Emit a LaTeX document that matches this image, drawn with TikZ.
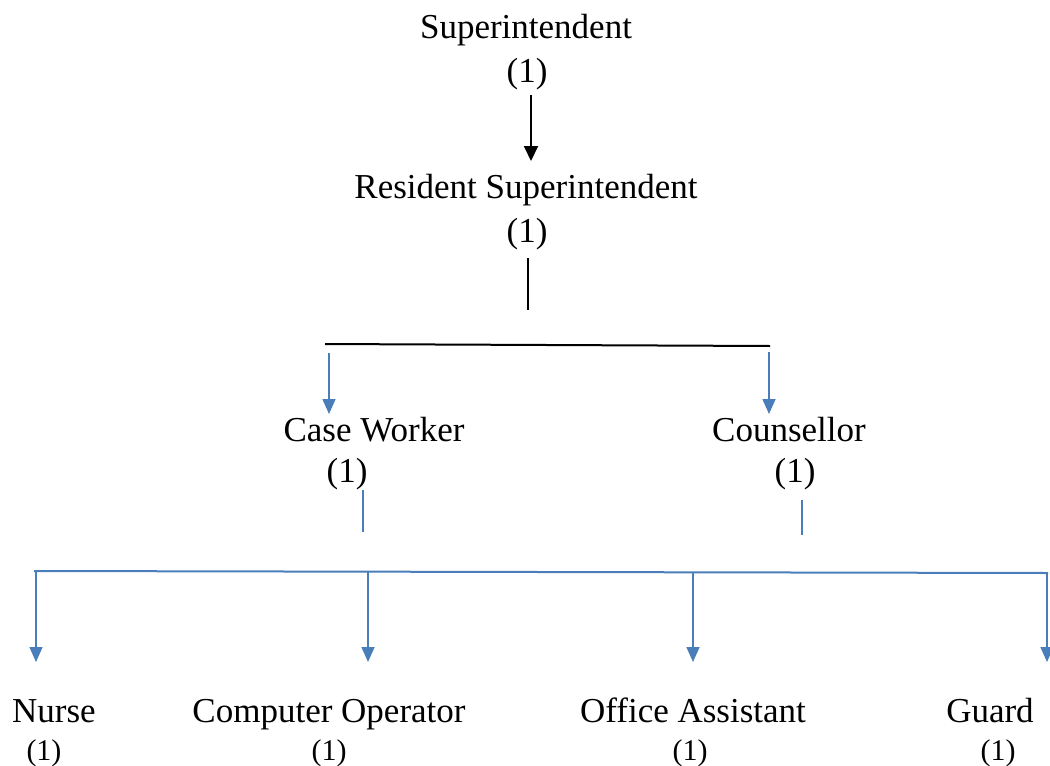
\documentclass[tikz,border=0pt]{standalone}
\usepackage{fontspec}
\setmainfont{Liberation Serif}
\usetikzlibrary{arrows.meta}
\definecolor{orgblue}{HTML}{4A7EBB}
\begin{document}
\begin{tikzpicture}[x=1pt,y=-1pt,
  lbl/.style={anchor=base,inner sep=0pt,font=\fontsize{35}{40}\selectfont},
  cnt/.style={anchor=base,inner sep=0pt,font=\fontsize{35}{40}\selectfont},
  cnts/.style={anchor=base,inner sep=0pt,font=\fontsize{30}{34}\selectfont},
  blk/.style={line width=2pt,black},
  blkarrow/.style={line width=2pt,black,-{Triangle[width=14pt,length=15pt]}},
  bl/.style={line width=1.6pt,orgblue},
  blarrow/.style={line width=1.6pt,orgblue,-{Triangle[width=13pt,length=15pt]}}]
\useasboundingbox (0,0) rectangle (1050,766);
% texts
\node[lbl] (sup) at (526,38) {Superintendent};
\node[cnt] (sup1) at (527,82) {(1)};
\node[lbl] (res) at (526,198) {Resident Superintendent};
\node[cnt] (res1) at (527,242) {(1)};
\node[lbl] (cw) at (374,441) {Case Worker};
\node[cnt] (cw1) at (347,482) {(1)};
\node[lbl] (co) at (789,441) {Counsellor};
\node[cnt] (co1) at (795,482) {(1)};
\node[lbl] (nu) at (54,722) {Nurse};
\node[cnts] (nu1) at (44,760) {(1)};
\node[lbl] (cop) at (329,722) {Computer Operator};
\node[cnts] (cop1) at (329,760) {(1)};
\node[lbl] (oa) at (693,722) {Office Assistant};
\node[cnts] (oa1) at (690,760) {(1)};
\node[lbl] (gu) at (990,722) {Guard};
\node[cnts] (gu1) at (998,760) {(1)};
% coordinates
\coordinate (a1) at (531,95);
\coordinate (a2) at (531,161);
\coordinate (r1) at (528,258);
\coordinate (r2) at (528,310);
\coordinate (hL) at (325,344);
\coordinate (hR) at (770,346);
\coordinate (cwT) at (329,353);
\coordinate (cwB) at (329,414);
\coordinate (coT) at (769,352);
\coordinate (coB) at (769,414);
\coordinate (c1) at (363,490);
\coordinate (c2) at (363,532);
\coordinate (d1) at (802,500);
\coordinate (d2) at (802,535);
\coordinate (bL) at (34,571);
\coordinate (bR) at (1048,573);
\coordinate (n1) at (36,571);
\coordinate (n2) at (36,662);
\coordinate (o1) at (368,571.6);
\coordinate (o2) at (368,662);
\coordinate (p1) at (693,572.3);
\coordinate (p2) at (693,662);
\coordinate (g1) at (1047,573);
\coordinate (g2) at (1047,662);
% connectors
\draw[blkarrow] (a1) -- (a2);
\draw[blk] (r1) -- (r2);
\draw[blk] (hL) -- (hR);
\draw[blarrow] (cwT) -- (cwB);
\draw[blarrow] (coT) -- (coB);
\draw[bl] (c1) -- (c2);
\draw[bl] (d1) -- (d2);
\draw[bl,line width=2pt] (bL) -- (bR);
\draw[blarrow] (n1) -- (n2);
\draw[blarrow] (o1) -- (o2);
\draw[blarrow] (p1) -- (p2);
\draw[blarrow] (g1) -- (g2);
\end{tikzpicture}
\end{document}
